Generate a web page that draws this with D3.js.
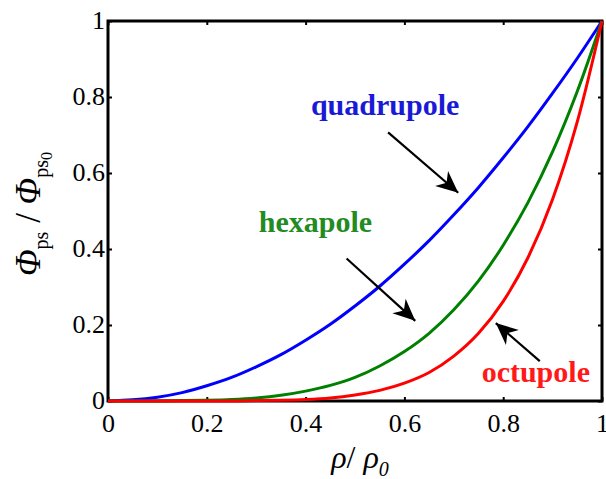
<!DOCTYPE html>
<html>
<head>
<meta charset="utf-8">
<script src="https://cdn.jsdelivr.net/npm/d3@7"></script>
<style>
  body { margin: 0; background: #fff; }
  svg, svg text, svg tspan { font-family: 'Liberation Serif', 'Times New Roman', Times, serif !important; }
</style>
</head>
<body>
<div id="chart"></div>
<script>
// normalized radius and flux ratio
const rho = [0, 0.05, 0.1, 0.15, 0.2, 0.25, 0.3, 0.35, 0.4, 0.45, 0.5,
             0.55, 0.6, 0.65, 0.7, 0.75, 0.8, 0.85, 0.9, 0.95, 1];
const quadrupole = [0, 0.003, 0.01, 0.022, 0.04, 0.062, 0.09, 0.122, 0.16, 0.202, 0.25,
                    0.302, 0.36, 0.422, 0.49, 0.562, 0.64, 0.722, 0.81, 0.902, 1];
const hexapole = [0, 0, 0, 0.001, 0.002, 0.004, 0.008, 0.015, 0.026, 0.041, 0.062,
                  0.092, 0.13, 0.178, 0.24, 0.316, 0.41, 0.522, 0.656, 0.815, 1];
const octupole = [0, 0, 0, 0, 0, 0, 0.001, 0.002, 0.004, 0.008, 0.016,
                  0.028, 0.047, 0.075, 0.118, 0.178, 0.262, 0.377, 0.531, 0.735, 1];
const xTicks = [0, 0.2, 0.4, 0.6, 0.8, 1];
const yTicks = [0, 0.2, 0.4, 0.6, 0.8, 1];

const width = 606, height = 479;
const margin = { top: 21, right: 4, bottom: 78, left: 108 };

const svg = d3.select('#chart').append('svg')
  .attr('width', width)
  .attr('height', height)
  .style('display', 'block');

const x = d3.scaleLinear().domain([0, 1]).range([margin.left, width - margin.right]);
const y = d3.scaleLinear().domain([0, 1]).range([height - margin.bottom, margin.top]);

// ticks inside the box, on all four sides
const tick = 4;

svg.append('g')
  .attr('transform', `translate(0,${y(0)})`)
  .call(d3.axisBottom(x).tickValues(xTicks).tickSize(-tick).tickFormat(d3.format('')))
  .attr('font-family', null)
  .call(g => g.select('.domain').remove())
  .call(g => g.selectAll('line').attr('stroke-width', 2))
  .call(g => g.selectAll('text').attr('font-size', 26).attr('dy', null).attr('y', 31).attr('fill', '#000'));

svg.append('g')
  .attr('transform', `translate(0,${y(1)})`)
  .call(d3.axisTop(x).tickValues(xTicks).tickSize(-tick).tickFormat(''))
  .call(g => g.select('.domain').remove())
  .call(g => g.selectAll('line').attr('stroke-width', 2));

svg.append('g')
  .attr('transform', `translate(${x(0)},0)`)
  .call(d3.axisLeft(y).tickValues(yTicks).tickSize(-tick).tickFormat(d3.format('')))
  .attr('font-family', null)
  .call(g => g.select('.domain').remove())
  .call(g => g.selectAll('line').attr('stroke-width', 2))
  .call(g => g.selectAll('text').attr('font-size', 26).attr('dy', '0.3em').attr('x', -3).attr('fill', '#000'));

svg.append('g')
  .attr('transform', `translate(${x(1)},0)`)
  .call(d3.axisRight(y).tickValues(yTicks).tickSize(-tick).tickFormat(''))
  .call(g => g.select('.domain').remove())
  .call(g => g.selectAll('line').attr('stroke-width', 2));

// frame
svg.append('rect')
  .attr('x', x(0)).attr('y', y(1))
  .attr('width', x(1) - x(0)).attr('height', y(0) - y(1))
  .attr('fill', 'none').attr('stroke', '#000').attr('stroke-width', 3);

// curves
const series = [
  { name: 'quadrupole', values: quadrupole, color: '#0000ff' },
  { name: 'hexapole', values: hexapole, color: '#008000' },
  { name: 'octupole', values: octupole, color: '#ff0000' }
];

const line = d3.line()
  .x((d, i) => x(rho[i]))
  .y(d => y(d))
  .curve(d3.curveMonotoneX);

svg.selectAll('.curve')
  .data(series)
  .enter()
  .append('path')
  .attr('class', 'curve')
  .attr('fill', 'none')
  .attr('stroke', d => d.color)
  .attr('stroke-width', 3)
  .attr('d', d => line(d.values));

// arrowhead
svg.append('defs').append('marker')
  .attr('id', 'head')
  .attr('viewBox', '0 0 10 10')
  .attr('refX', 10).attr('refY', 5)
  .attr('markerWidth', 22).attr('markerHeight', 22)
  .attr('markerUnits', 'userSpaceOnUse')
  .attr('orient', 'auto')
  .append('path')
  .attr('d', 'M0,0.5 L10,5 L0,9.5 L3,5 Z')
  .attr('fill', '#000');

// labels with arrows (data coordinates)
const notes = [
  { text: 'quadrupole', color: '#1a1ad6', tx: 0.561, ty: 0.753, ax: [0.567, 0.709], ay: [0.707, 0.548] },
  { text: 'hexapole', color: '#228b22', tx: 0.42, ty: 0.445, ax: [0.483, 0.622], ay: [0.375, 0.211] },
  { text: 'octupole', color: '#ff1a1a', tx: 0.866, ty: 0.05, ax: [0.874, 0.785], ay: [0.105, 0.205] }
];

notes.forEach(n => {
  svg.append('text')
    .attr('x', x(n.tx)).attr('y', y(n.ty))
    .attr('text-anchor', 'middle')
    .attr('font-size', 30).attr('font-weight', 'bold')
    .attr('fill', n.color)
    .text(n.text);
  svg.append('line')
    .attr('x1', x(n.ax[0])).attr('y1', y(n.ay[0]))
    .attr('x2', x(n.ax[1])).attr('y2', y(n.ay[1]))
    .attr('stroke', '#000').attr('stroke-width', 2.2)
    .attr('marker-end', 'url(#head)');
});

// axis titles
const xt = svg.append('text')
  .attr('x', 360).attr('y', 468)
  .attr('text-anchor', 'middle')
  .attr('font-size', 32).attr('font-style', 'italic');
xt.append('tspan').text('ρ');
xt.append('tspan').attr('font-style', 'normal').text('/ ');
xt.append('tspan').text('ρ');
xt.append('tspan').attr('font-size', 20).attr('dy', 8).text('0');

const yt = svg.append('text')
  .attr('transform', 'translate(40,214) rotate(-90)')
  .attr('text-anchor', 'middle')
  .attr('font-size', 35);
yt.append('tspan').attr('font-style', 'italic').text('Φ');
yt.append('tspan').attr('font-size', 20).attr('dy', 8).text('ps');
yt.append('tspan').attr('dy', -8).text(' / ');
yt.append('tspan').attr('font-style', 'italic').text('Φ');
yt.append('tspan').attr('font-size', 20).attr('dy', 8).text('ps');
yt.append('tspan').attr('font-size', 16).attr('dy', 4).text('0');
</script>
</body>
</html>
